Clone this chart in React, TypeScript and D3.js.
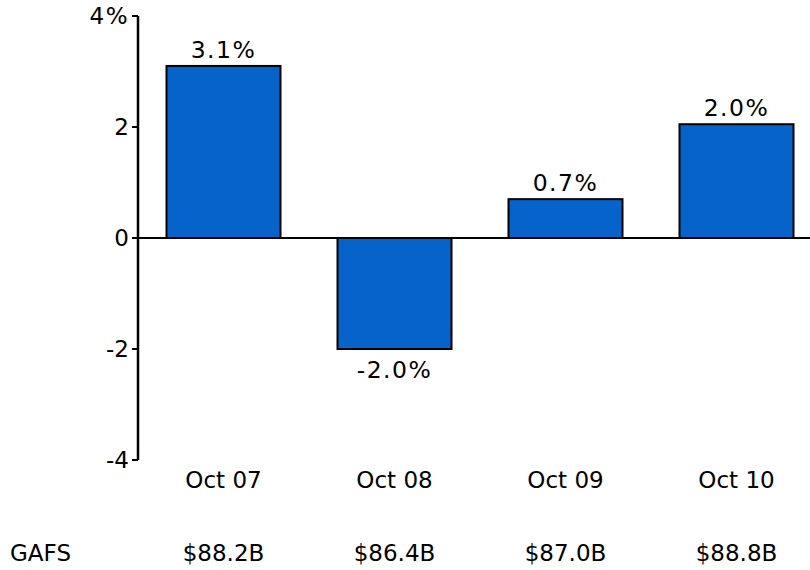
import React from 'react';
import * as d3 from 'd3';

const categories = ['Oct 07', 'Oct 08', 'Oct 09', 'Oct 10'];
const growth = [3.1, -2.0, 0.7, 2.05];
const growthLabels = ['3.1%', '-2.0%', '0.7%', '2.0%'];
const gafs = ['$88.2B', '$86.4B', '$87.0B', '$88.8B'];
const yTicks = [-4, -2, 0, 2, 4];

const W = 810;
const H = 570;
const FONT = 'DejaVu Sans, Verdana, sans-serif';

export default function App() {
  const x = d3.scaleBand<string>().domain(categories).range([138, 822]).paddingInner(1 / 3).paddingOuter(1 / 6);
  const y = d3.scaleLinear().domain([-4, 4]).range([460, 16]);
  const axisX = 138;

  return (
    <svg width={W} height={H} style={{ position: 'absolute', left: 0, top: 0 }} fontFamily={FONT}>
      {categories.map((c, i) => {
        const v = growth[i];
        const x0 = x(c)!;
        const top = y(Math.max(0, v));
        const bot = y(Math.min(0, v));
        const cx = x0 + x.bandwidth() / 2;
        return (
          <g key={c}>
            <rect x={x0} y={top} width={x.bandwidth()} height={bot - top}
              fill="#0563C9" stroke="#000" strokeWidth={2} />
            <text x={cx} y={v >= 0 ? top - 8 : bot + 29} textAnchor="middle" fontSize={23.5} letterSpacing={1.5}>{growthLabels[i]}</text>
            <text x={cx} y={488} textAnchor="middle" fontSize={23}>{c}</text>
            <text x={cx} y={561} textAnchor="middle" fontSize={23}>{gafs[i]}</text>
          </g>
        );
      })}
      <text x={10} y={561} fontSize={23}>GAFS</text>
      <line x1={axisX} x2={W} y1={y(0)} y2={y(0)} stroke="#000" strokeWidth={2} />
      <line x1={axisX} x2={axisX} y1={y(4)} y2={y(-4)} stroke="#000" strokeWidth={2.5} />
      {yTicks.map(t => (
        <g key={t}>
          <line x1={axisX - 6} x2={axisX} y1={y(t)} y2={y(t)} stroke="#000" strokeWidth={2} />
          <text x={axisX - 9} y={y(t) + 8} textAnchor="end" fontSize={23} letterSpacing={t === 4 ? 1.5 : 0}>{t === 4 ? '4%' : String(t)}</text>
        </g>
      ))}
    </svg>
  );
}
